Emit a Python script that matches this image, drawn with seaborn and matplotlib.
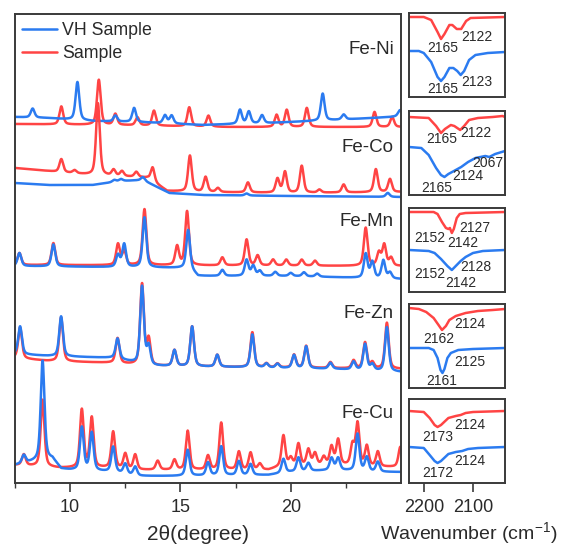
import numpy as np
import matplotlib
matplotlib.use("Agg")
import matplotlib.pyplot as plt
import seaborn as sns
from matplotlib.lines import Line2D

# ---------------- XRD data (2theta, peak heights in arbitrary units) ----------------
patterns = ["Fe-Ni", "Fe-Co", "Fe-Mn", "Fe-Zn", "Fe-Cu"]

ni_red_pos = [9.6, 11.3, 12.05, 13.05, 13.8, 15.4, 16.27, 19.36, 19.82, 20.73, 23.8, 24.6]
ni_red_h = [18, 45, 11, 8, 15, 19, 11, 12, 17, 19, 15, 10]
ni_red_bx = [7.5, 12, 17, 25]
ni_red_by = [0, -1, -3, -3]
ni_blue_pos = [8.3, 10.33, 12.05, 12.9, 14.3, 14.6, 17.7, 18.1, 18.7, 21.45, 22.4, 24.95]
ni_blue_h = [9, 38, 6, 14, 8, 8, 14, 12, 8, 27, 5, 6]
ni_blue_bx = [7.5, 9, 11, 13, 16, 19, 22, 24.5, 25]
ni_blue_by = [7, 6, 3, 2, -1, 1, 4, 7, 8]

co_red_pos = [9.6, 10.2, 11.26, 11.97, 12.35, 13.0, 13.74, 15.43, 16.14, 16.7, 18.06,
              19.4, 19.74, 20.5, 21.3, 22.4, 23.86, 24.5]
co_red_h = [13, 3, 72, 6, 5, 5, 14, 36, 15, 4, 10, 14, 21, 27, 3, 8, 23, 13]
co_red_bx = [7.5, 9, 11, 13, 13.5, 14.4, 16, 20, 25]
co_red_by = [4, 1, -3, -5, -6, -19, -20, -21, -20]
co_blue_pos = [12.0, 12.3, 13.3, 18.0, 24.4]
co_blue_h = [2, 2, 3, 2, 4]
co_blue_bx = [7.5, 9, 11, 12.3, 13.3, 14.5, 16, 20, 25]
co_blue_by = [-11, -13, -13, -9, -8, -21, -23, -24, -25]

mn_red_pos = [7.7, 9.24, 12.17, 12.45, 13.37, 14.85, 15.3, 16.9, 18.0, 18.5, 19.2, 19.8,
              20.5, 21.1, 23.4, 24.0, 24.24, 24.55]
mn_red_h = [12, 22, 21, 14, 56, 19, 54, 8, 26, 10, 6, 6, 6, 5, 38, 13, 21, 8]
mn_red_bx = [7.5, 25]
mn_red_by = [1, 0]
mn_blue_pos = [7.7, 9.24, 12.17, 12.45, 13.37, 15.35, 16.9, 18.0, 18.3, 18.6, 19.3, 20.0,
               20.6, 21.2, 23.4, 23.7, 24.2, 24.5]
mn_blue_h = [13, 22, 12, 23, 50, 38, 6, 16, 10, 5, 4, 3, 4, 3, 24, 16, 18, 6]
mn_blue_bx = [7.5, 15.4, 15.8, 20, 25]
mn_blue_by = [0, -2, -10, -10, -13]

zn_pos = [7.73, 9.59, 12.15, 13.26, 13.56, 14.73, 15.53, 16.67, 18.26, 18.9, 19.4, 20.15,
          20.7, 21.8, 22.85, 23.37, 23.7, 24.36]
zn_red_h = [31, 44, 25, 81, 26, 16, 40, 12, 35, 4, 4, 13, 22, 6, 8, 26, 6, 46]
zn_blue_h = [28, 40, 20, 78, 19, 16, 40, 12, 33, 4, 4, 13, 22, 6, 8, 26, 6, 44]
zn_red_bx = [7.5, 9, 12, 13.5, 17, 25]
zn_red_by = [4, 1, -1, -4, -5, -7]
zn_blue_bx = [7.5, 9, 12, 13.5, 17, 22, 25]
zn_blue_by = [8, 6, 4, -4, -5, -7, -10]

cu_red_pos = [7.9, 8.75, 10.53, 10.98, 11.95, 12.5, 12.95, 13.97, 14.73, 15.33, 16.25, 16.85,
              17.65, 18.18, 18.6, 19.67, 20.0, 20.35, 20.8, 21.1, 21.5, 21.85, 22.15, 22.8,
              23.03, 23.45, 23.95, 24.97]
cu_red_h = [11, 67, 58, 50, 36, 15, 15, 9, 10, 39, 14, 47, 18, 17, 6, 31, 8, 22, 16, 12, 8,
            18, 25, 20, 42, 20, 15, 20]
cu_red_bx = [7.5, 9.5, 12, 13, 19, 19.5, 22, 24, 25]
cu_red_by = [2, -1, -1, -3, -3, 0, 2, 0, 0]
cu_blue_pos = [7.9, 8.75, 10.53, 10.98, 11.95, 12.5, 12.95, 15.33, 16.25, 16.85, 17.65, 18.18,
               19.67, 20.35, 20.8, 21.85, 22.15, 23.03, 23.45, 23.95]
cu_blue_h = [8, 99, 43, 38, 25, 10, 9, 26, 13, 29, 14, 11, 14, 14, 8, 12, 12, 37, 14, 10]
cu_blue_bx = [7.5, 8.9, 9.2, 9.6, 10, 12, 13, 15, 19, 20, 22, 24, 25]
cu_blue_by = [2, 8, 8, -2, -3, -5, -9, -9, -8, -5, -3, -5, -5]

# ---------------- IR data (wavenumber, relative transmittance) ----------------
ir1_red_wn = [2230, 2200, 2185, 2172, 2165, 2158, 2148, 2142, 2133, 2124, 2114, 2105, 2035]
ir1_red_t = [0, 0, -3, -15, -22, -17, -8, -8, -12, -12, -4, -1, 0]
ir1_blue_wn = [2230, 2210, 2200, 2185, 2172, 2165, 2158, 2148, 2140, 2132, 2125, 2118, 2108, 2095, 2070, 2035]
ir1_blue_t = [0, 0, -2, -11, -26, -30, -26, -17, -17, -20, -24, -20, -9, -4, -2, -1]

ir2_red_wn = [2230, 2190, 2175, 2165, 2157, 2145, 2138, 2126, 2118, 2108, 2090, 2060, 2040, 2035]
ir2_red_t = [0, -1, -9, -16, -12, -8, -9, -13, -9, -3, -1, 0, 1, 0]
ir2_blue_wn = [2230, 2205, 2190, 2175, 2165, 2158, 2150, 2135, 2124, 2110, 2095, 2085, 2075, 2067, 2055, 2035]
ir2_blue_t = [0, -1, -8, -21, -28, -30, -27, -23, -20, -15, -11, -10, -9, -10, -7, -4]

ir3_red_wn = [2230, 2180, 2172, 2163, 2155, 2150, 2147, 2143, 2139, 2133, 2127, 2115, 2035]
ir3_red_t = [0, 0, -2, -10, -16, -17, -16, -21, -17, -6, -2, -1, 0]
ir3_blue_wn = [2230, 2190, 2178, 2165, 2152, 2143, 2135, 2125, 2115, 2100, 2080, 2035]
ir3_blue_t = [0, -1, -3, -9, -16, -20, -16, -11, -7, -3, -1, 0]

ir4_red_wn = [2230, 2210, 2195, 2180, 2170, 2163, 2155, 2148, 2135, 2115, 2090, 2060, 2035]
ir4_red_t = [0, -1, -4, -10, -17, -22, -18, -12, -8, -5, -3, -2, -1]
ir4_blue_wn = [2230, 2190, 2180, 2172, 2166, 2162, 2158, 2152, 2145, 2130, 2100, 2035]
ir4_blue_t = [0, 0, -2, -10, -22, -25, -21, -10, -5, -2, -1, 0]

ir5_red_wn = [2230, 2200, 2188, 2178, 2172, 2165, 2150, 2135, 2125, 2115, 2100, 2035]
ir5_red_t = [0, -1, -7, -14, -16, -14, -7, -5, -4, -2, -1, 0]
ir5_blue_wn = [2230, 2200, 2188, 2178, 2172, 2165, 2150, 2135, 2122, 2110, 2090, 2035]
ir5_blue_t = [0, -1, -8, -14, -16, -14, -7, -5, -4, -2, -1, 0]

ir1_red_labels = ["2165", "2122"]
ir1_blue_labels = ["2165", "2123"]
ir2_red_labels = ["2165", "2122"]
ir2_blue_labels = ["2067", "2124", "2165"]
ir3_red_labels = ["2127", "2152", "2142"]
ir3_blue_labels = ["2128", "2152", "2142"]
ir4_red_labels = ["2124", "2162"]
ir4_blue_labels = ["2125", "2161"]
ir5_red_labels = ["2124", "2173"]
ir5_blue_labels = ["2124", "2172"]

# ---------------- style ----------------
sns.set_theme(style="white")
plt.rcParams["font.family"] = ["Liberation Sans", "DejaVu Sans"]
plt.rcParams["mathtext.fontset"] = "custom"
plt.rcParams["mathtext.rm"] = "Liberation Sans"
plt.rcParams["mathtext.it"] = "Liberation Sans"
RED = "#ff4444"
BLUE = "#2b7bf0"
TXT = "#2a2a2a"
SPINE = "#3a3a3a"
LW = 1.8

W, H = 561, 548
fig = plt.figure(figsize=(W / 100, H / 100), dpi=100)
fig.patch.set_facecolor("white")


def rect(l, t, r, b):
    return [l / W, 1 - b / H, (r - l) / W, (b - t) / H]


def profile(x, pos, h, w=0.1, eta=0.5):
    y = np.zeros_like(x)
    for p, a in zip(pos, h):
        d = (x - p) / w
        y += a * (eta / (1 + d * d) + (1 - eta) * np.exp(-np.log(2) * d * d))
    return y


ax = fig.add_axes(rect(15, 14, 401, 483))
x = np.linspace(7.5, 25, 4000)

series = [
    (359, (ni_red_pos, ni_red_h, ni_red_bx, ni_red_by), (ni_blue_pos, ni_blue_h, ni_blue_bx, ni_blue_by)),
    (311, (co_red_pos, co_red_h, co_red_bx, co_red_by), (co_blue_pos, co_blue_h, co_blue_bx, co_blue_by)),
    (217, (mn_red_pos, mn_red_h, mn_red_bx, mn_red_by), (mn_blue_pos, mn_blue_h, mn_blue_bx, mn_blue_by)),
    (121, (zn_pos, zn_red_h, zn_red_bx, zn_red_by), (zn_pos, zn_blue_h, zn_blue_bx, zn_blue_by)),
    (16, (cu_red_pos, cu_red_h, cu_red_bx, cu_red_by), (cu_blue_pos, cu_blue_h, cu_blue_bx, cu_blue_by)),
]
label_y = [433, 336, 262, 170, 70]

for (off, red, blue), name, ly in zip(series, patterns, label_y):
    yr = off + np.interp(x, red[2], red[3]) + profile(x, red[0], red[1])
    yb = off + np.interp(x, blue[2], blue[3]) + profile(x, blue[0], blue[1])
    sns.lineplot(x=x, y=yr, ax=ax, color=RED, linewidth=LW, estimator=None, sort=False)
    sns.lineplot(x=x, y=yb, ax=ax, color=BLUE, linewidth=LW, estimator=None, sort=False)
    ax.text(24.68, ly, name, ha="right", va="center", fontsize=13.5, color=TXT)

ax.set_xlim(7.5, 25)
ax.set_ylim(0, 469)
ax.set_yticks([])
ax.set_xticks([10, 15, 20])
ax.set_xticks([7.5, 12.5, 17.5, 22.5], minor=True)
ax.tick_params(axis="x", which="major", direction="out", length=6.5, width=1.2,
               color=SPINE, labelsize=13, labelcolor=TXT, pad=5, bottom=True)
ax.tick_params(axis="x", which="minor", direction="out", length=3.5, width=1.0,
               color=SPINE, bottom=True)
for s in ax.spines.values():
    s.set_color(SPINE)
    s.set_linewidth(1.4)
ax.set_xlabel("2θ(degree)", fontsize=15, color=TXT)
ax.xaxis.set_label_coords((198 - 15) / 386, -(534 - 483) / 469, transform=ax.transAxes)
ax.xaxis.label.set_va("center")

handles = [Line2D([], [], color=BLUE, lw=LW), Line2D([], [], color=RED, lw=LW)]
ax.legend(handles, ["VH Sample", "Sample"], loc="upper left", frameon=False,
          fontsize=12.8, handlelength=1.95, handletextpad=0.3, labelspacing=0.35,
          borderaxespad=0.0, bbox_to_anchor=(0.0, 0.998), labelcolor=TXT)

# ---------------- IR panels ----------------
tops = [13, 111, 208, 304, 399]
ir = [
    (ir1_red_wn, ir1_red_t, 80, ir1_blue_wn, ir1_blue_t, 46,
     list(zip(ir1_red_labels, [(2161, 49), (2092, 60)])),
     list(zip(ir1_blue_labels, [(2161, 8), (2092, 15)]))),
    (ir2_red_wn, ir2_red_t, 78, ir2_blue_wn, ir2_blue_t, 48,
     list(zip(ir2_red_labels, [(2163, 56), (2094, 62)])),
     list(zip(ir2_blue_labels, [(2069, 32), (2110, 19), (2173, 7)]))),
    (ir3_red_wn, ir3_red_t, 80, ir3_blue_wn, ir3_blue_t, 42,
     list(zip(ir3_red_labels, [(2096, 64), (2188, 54), (2120, 49)])),
     list(zip(ir3_blue_labels, [(2094, 25), (2188, 18), (2124, 9)]))),
    (ir4_red_wn, ir4_red_t, 80, ir4_blue_wn, ir4_blue_t, 40,
     list(zip(ir4_red_labels, [(2106, 64), (2169, 49)])),
     list(zip(ir4_blue_labels, [(2106, 26), (2163, 7)]))),
    (ir5_red_wn, ir5_red_t, 72, ir5_blue_wn, ir5_blue_t, 36,
     list(zip(ir5_red_labels, [(2106, 58), (2171, 46)])),
     list(zip(ir5_blue_labels, [(2106, 22), (2171, 10)]))),
]

for i, (t, d) in enumerate(zip(tops, ir)):
    a = fig.add_axes(rect(409, t, 505, t + 84))
    rwn, rt, roff, bwn, bt, boff, rlab, blab = d
    sns.lineplot(x=rwn, y=np.array(rt) + roff, ax=a, color=RED, linewidth=LW,
                 estimator=None, sort=False)
    sns.lineplot(x=bwn, y=np.array(bt) + boff, ax=a, color=BLUE, linewidth=LW,
                 estimator=None, sort=False)
    for txt, (lx, ly) in rlab + blab:
        a.text(lx, ly, txt, ha="center", va="center", fontsize=10, color=TXT)
    a.set_xlim(2230, 2035)
    a.set_ylim(0, 84)
    a.set_yticks([])
    for s in a.spines.values():
        s.set_color(SPINE)
        s.set_linewidth(1.4)
    if i == len(tops) - 1:
        a.set_xticks([2200, 2100])
        a.tick_params(axis="x", direction="out", length=6.5, width=1.2, color=SPINE,
                      labelsize=13, labelcolor=TXT, pad=5, bottom=True)
        a.set_xlabel("Wavenumber (cm$^{-1}$)", fontsize=14, color=TXT)
        a.xaxis.set_label_coords((469 - 409) / 96, -(533 - 483) / 84, transform=a.transAxes)
        a.xaxis.label.set_va("center")
    else:
        a.set_xticks([])

fig.savefig("out.png", dpi=100, facecolor="white")
